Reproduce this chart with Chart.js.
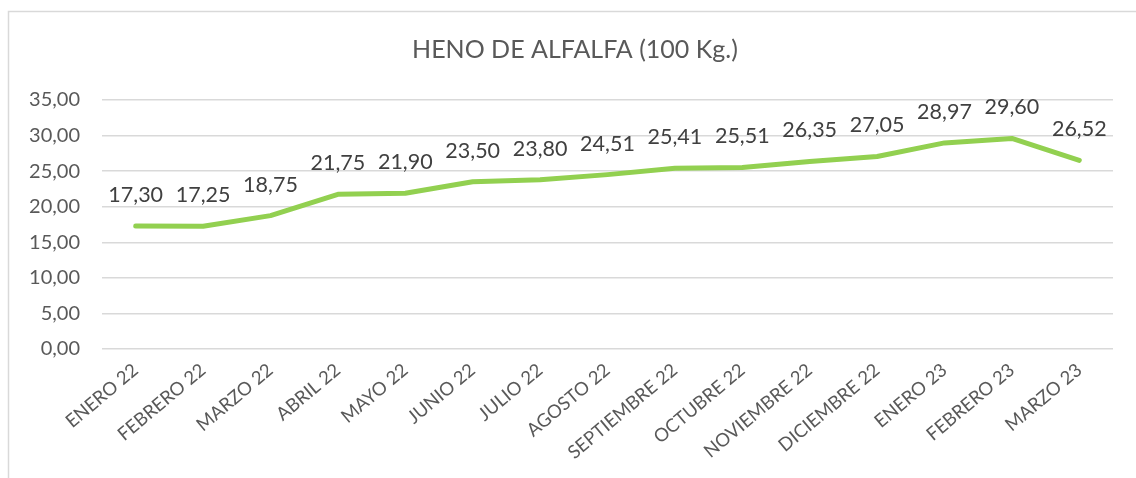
<!DOCTYPE html>
<html>
<head>
<meta charset="utf-8">
<script src="https://cdn.jsdelivr.net/npm/chart.js@4"></script>
<style>
  html, body { margin: 0; padding: 0; background: #fff; }
</style>
</head>
<body>
<canvas id="canvas" width="1136" height="478"></canvas>
<script>

let title = 'HENO DE ALFALFA (100 Kg.)';

let months = [
  'ENERO 22', 'FEBRERO 22', 'MARZO 22', 'ABRIL 22', 'MAYO 22',
  'JUNIO 22', 'JULIO 22', 'AGOSTO 22', 'SEPTIEMBRE 22', 'OCTUBRE 22',
  'NOVIEMBRE 22', 'DICIEMBRE 22', 'ENERO 23', 'FEBRERO 23', 'MARZO 23'
];

let prices = [
  17.30, 17.25, 18.75, 21.75, 21.90,
  23.50, 23.80, 24.51, 25.41, 25.51,
  26.35, 27.05, 28.97, 29.60, 26.52
];

let yMin = 0;
let yMax = 35;
let yStep = 5;

// spanish style number: 17,30
function fmt(v) {
  return Number(v).toFixed(2).replace('.', ',');
}

// frame + title drawn by hand, like the excel chart box
let framePlugin = {
  id: 'frame',
  beforeDraw: function(chart) {
    let ctx = chart.ctx;
    ctx.save();
    ctx.strokeStyle = '#d9d9d9';
    ctx.lineWidth = 1.5;
    ctx.strokeRect(8.5, 11.5, 1200, 600);
    ctx.fillStyle = '#595959';
    ctx.font = '25px Lato';
    ctx.textAlign = 'center';
    ctx.textBaseline = 'middle';
    ctx.fillText(title, 575, 50);
    ctx.restore();
  }
};

// value labels above each point
let labelPlugin = {
  id: 'valueLabels',
  afterDatasetsDraw: function(chart) {
    let ctx = chart.ctx;
    let meta = chart.getDatasetMeta(0);
    ctx.save();
    ctx.fillStyle = '#404040';
    ctx.font = '21.5px Lato';
    ctx.textAlign = 'center';
    ctx.textBaseline = 'middle';
    for (let i = 0; i < meta.data.length; i++) {
      let p = meta.data[i];
      ctx.fillText(fmt(prices[i]), p.x, p.y - 31);
    }
    ctx.restore();
  }
};

let options = {
  type: 'line',
  data: {
    labels: months,
    datasets: [{
      data: prices,
      borderColor: '#92d050',
      borderWidth: 5,
      borderCapStyle: 'round',
      borderJoinStyle: 'round',
      pointRadius: 0,
      tension: 0,
      fill: false
    }]
  },
  options: {
    responsive: false,
    animation: false,
    layout: {
      padding: { top: 100, right: 23, left: 0, bottom: 0 }
    },
    plugins: {
      legend: { display: false },
      title: { display: false },
      tooltip: { enabled: false }
    },
    scales: {
      x: {
        offset: true,
        grid: { display: false },
        border: { display: false },
        ticks: {
          autoSkip: false,
          minRotation: 40,
          maxRotation: 40,
          color: '#595959',
          font: { family: 'Lato', size: 18.5 },
          padding: 2
        },
        afterFit: function(scale) {
          scale.height = 129;
        }
      },
      y: {
        min: yMin,
        max: yMax,
        grid: {
          color: '#d9d9d9',
          lineWidth: 1.5,
          drawTicks: false
        },
        border: { display: false },
        ticks: {
          stepSize: yStep,
          color: '#595959',
          font: { family: 'Lato', size: 20 },
          padding: 22,
          callback: function(v) { return fmt(v); }
        },
        afterFit: function(scale) {
          scale.width = 102;
        }
      }
    }
  },
  plugins: [framePlugin, labelPlugin]
};

let chart = new Chart(document.getElementById('canvas'), options);

</script>
</body>
</html>
